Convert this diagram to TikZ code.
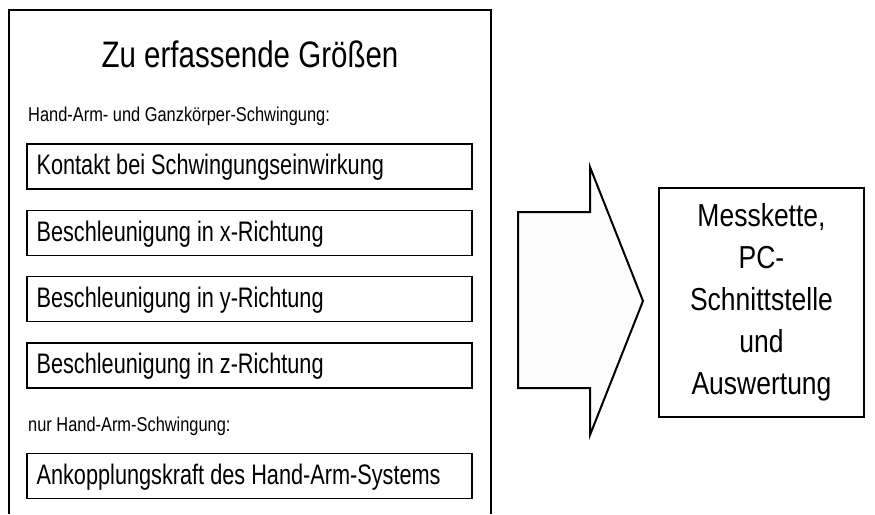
\documentclass[tikz,border=0pt]{standalone}
\usepackage{fontspec}
\setmainfont{Liberation Sans}
\usetikzlibrary{calc}
\newcommand{\vstr}[2]{\scalebox{1}[#1]{#2}}
\begin{document}
\begin{tikzpicture}[x=1pt,y=-1pt,
  frame/.style={line width=2pt},
  ibox/.style={draw, line width=1.2pt, minimum width=445pt, minimum height=45pt, inner sep=0pt},
  ttitle/.style={font=\fontsize{29.5}{32}\selectfont, inner sep=0pt, anchor=base},
  tsmall/.style={font=\fontsize{16.4}{18}\selectfont, inner sep=0pt, anchor=base west},
  tbox/.style={font=\fontsize{21.7}{24}\selectfont, inner sep=0pt, anchor=base west},
  rbox/.style={draw, line width=1.8pt, minimum width=205pt, minimum height=229pt, align=center,
    font=\fontsize{26.5}{42}\selectfont, inner sep=0pt},
  bigarrow/.style={draw, line width=2pt, fill=gray!2, line join=miter}
]
\useasboundingbox (0,0) rectangle (875,514);
% outer frame (open at the bottom)
\draw[frame] (9,514) -- (9,10) -- (491,10) -- (491,514);
\node[ttitle] (title) at (250,67) {\vstr{1.25}{Zu erfassende Größen}};
\node[tsmall] (sub1) at (28,121) {\vstr{1.22}{Hand-Arm- und Ganzkörper-Schwingung:}};
\node[ibox] (b1) at (249.5,166.5) {};
\node[ibox] (b2) at (249.5,232.8) {};
\node[ibox] (b3) at (249.5,299.2) {};
\node[ibox] (b4) at (249.5,365.5) {};
\node[tbox] (t1) at ($(b1.north west)+(10,31.5)$) {\vstr{1.3}{Kontakt bei Schwingungseinwirkung}};
\node[tbox] (t2) at ($(b2.north west)+(10,31.5)$) {\vstr{1.3}{Beschleunigung in x-Richtung}};
\node[tbox] (t3) at ($(b3.north west)+(10,31.5)$) {\vstr{1.3}{Beschleunigung in y-Richtung}};
\node[tbox] (t4) at ($(b4.north west)+(10,31.5)$) {\vstr{1.3}{Beschleunigung in z-Richtung}};
\node[tsmall] (sub2) at (28,431) {\vstr{1.22}{nur Hand-Arm-Schwingung:}};
\node[ibox] (b5) at (249.5,476) {};
\node[tbox] (t5) at ($(b5.north west)+(10,31.5)$) {\vstr{1.3}{Ankopplungskraft des Hand-Arm-Systems}};
% big arrow
\draw[bigarrow] (518,212) -- (590,212) -- (590,167) -- (643,301) -- (590,435) -- (590,388) -- (518,388) -- cycle;
% right box
\node[rbox] (rb) at (761.5,302.5) {\vstr{1.2}{Messkette,}\\\vstr{1.2}{PC-}\\\vstr{1.2}{Schnittstelle}\\\vstr{1.2}{und}\\\vstr{1.2}{Auswertung}};
\end{tikzpicture}
\end{document}
